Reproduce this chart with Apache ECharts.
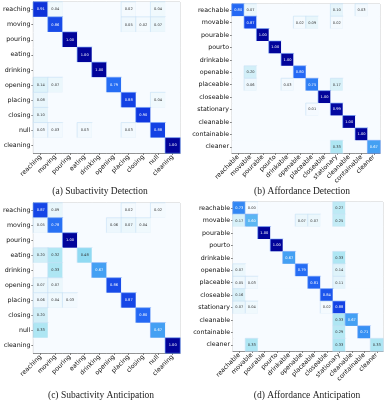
<!DOCTYPE html>
<html><head><meta charset="utf-8">
<script src="https://cdn.jsdelivr.net/npm/echarts@6/dist/echarts.min.js"></script>
<style>html,body{margin:0;padding:0;background:#fff}#c{width:385px;height:400px}</style>
</head><body><div id="c"></div>
<script>
const subCats = ['reaching','moving','pouring','eating','drinking','opening','placing','closing','null','cleaning'];
const affCats = ['reachable','movable','pourable','pourto','drinkable','openable','placeable','closeable','stationary','cleanable','containable','cleaner'];
const captions = ['(a) Subactivity Detection','(b) Affordance Detection','(c) Subactivity Anticipation','(d) Affordance Anticipation'];

const subDetection = [
  [0.91,0.04,0,0,0,0,0.02,0,0.04,0],
  [0,0.86,0,0,0,0,0.05,0.02,0.07,0],
  [0,0,1,0,0,0,0,0,0,0],
  [0,0,0,1,0,0,0,0,0,0],
  [0,0,0,0,1,0,0,0,0,0],
  [0.14,0.07,0,0,0,0.79,0,0,0,0],
  [0.08,0,0,0,0,0,0.88,0,0.04,0],
  [0.10,0,0,0,0,0,0,0.90,0,0],
  [0.03,0.03,0,0.03,0,0,0.03,0,0.88,0],
  [0,0,0,0,0,0,0,0,0,1]
];
const affDetection = [
  [0.80,0.07,0,0,0,0,0,0,0.10,0,0.03,0],
  [0,0.87,0,0,0,0.02,0.09,0,0.02,0,0,0],
  [0,0,1,0,0,0,0,0,0,0,0,0],
  [0,0,0,1,0,0,0,0,0,0,0,0],
  [0,0,0,0,1,0,0,0,0,0,0,0],
  [0,0.20,0,0,0,0.80,0,0,0,0,0,0],
  [0,0.06,0,0,0.03,0,0.75,0,0.17,0,0,0],
  [0,0,0,0,0,0,0,1,0,0,0,0],
  [0,0,0,0,0,0,0.01,0,0.99,0,0,0],
  [0,0,0,0,0,0,0,0,0,1,0,0],
  [0,0,0,0,0,0,0,0,0,0,1,0],
  [0,0,0,0,0,0,0,0,0.33,0,0,0.67]
];
const subAnticipation = [
  [0.87,0.09,0,0,0,0,0.02,0,0.02,0],
  [0.05,0.78,0,0,0,0.06,0.07,0.04,0,0],
  [0,0,1,0,0,0,0,0,0,0],
  [0.20,0.32,0,0.48,0,0,0,0,0,0],
  [0,0.33,0,0,0.67,0,0,0,0,0],
  [0.07,0.07,0,0,0,0.86,0,0,0,0],
  [0.06,0.04,0.03,0,0,0,0.87,0,0,0],
  [0.20,0,0,0,0,0,0,0.80,0,0],
  [0.33,0,0,0,0,0,0,0,0.67,0],
  [0,0,0,0,0,0,0,0,0,1]
];
const affAnticipation = [
  [0.73,0.004,0,0,0,0,0,0,0.27,0,0,0],
  [0.17,0.60,0,0,0,0.07,0.07,0,0.25,0,0,0],
  [0,0,1,0,0,0,0,0,0,0,0,0],
  [0,0,0,1,0,0,0,0,0,0,0,0],
  [0,0,0,0,0.67,0,0,0,0.33,0,0,0],
  [0.07,0,0,0,0,0.79,0,0,0.14,0,0,0],
  [0.05,0.03,0,0,0,0,0.81,0,0.11,0,0,0],
  [0.16,0,0,0,0,0,0,0.84,0,0,0,0],
  [0.07,0.04,0,0,0,0,0,0.02,0.88,0,0,0],
  [0,0,0,0,0,0,0,0,0.33,0.67,0,0],
  [0,0,0,0,0,0,0,0,0.29,0,0.71,0],
  [0,0.33,0,0,0,0,0,0,0.33,0,0,0.33]
];

const panels = [
  {m: subDetection, cats: subCats},
  {m: affDetection, cats: affCats},
  {m: subAnticipation, cats: subCats},
  {m: affAnticipation, cats: affCats}
];
const grids = [
  {left:29, top:2, width:151, height:151},
  {left:232, top:4, width:148, height:149},
  {left:29, top:203, width:151, height:150},
  {left:233, top:202, width:150, height:149}
];
const capPos = [[100,191],[302,191],[101,395],[307,395]];

function toData(m){
  const out = [];
  m.forEach((row, r) => row.forEach((v, c) => {
    const item = {value:[c, r, v], label:{color: v >= 0.55 ? '#ffffff' : '#333333'}};
    if (v > 0) item.itemStyle = {borderColor: v >= 0.5 ? 'rgba(110,160,250,0.75)' : 'rgba(200,225,245,0.8)', borderWidth: 0.8};
    out.push(item);
  }));
  return out;
}

const chart = echarts.init(document.getElementById('c'), null, {renderer:'canvas'});
const option = {
  backgroundColor:'#ffffff',
  animation:false,
  grid: grids.map(g => Object.assign({show:true, borderColor:'#b0b0b0', borderWidth:0.8, backgroundColor:'#f7fbff'}, g)),
  xAxis: panels.map((p,i) => ({
    type:'category', gridIndex:i, data:p.cats,
    axisLine:{show:true, lineStyle:{color:'#555', width:0.8}},
    axisTick:{show:true, alignWithLabel:true, length:2, lineStyle:{color:'#333', width:0.6}},
    axisLabel:{rotate:45, interval:0, fontSize:6.3, color:'#111', margin:3, fontFamily:'DejaVu Sans'},
    splitLine:{show:false}
  })),
  yAxis: panels.map((p,i) => ({
    type:'category', gridIndex:i, data:p.cats, inverse:true,
    axisLine:{show:true, lineStyle:{color:'#555', width:0.8}},
    axisTick:{show:true, alignWithLabel:true, length:2, lineStyle:{color:'#333', width:0.6}},
    axisLabel:{interval:0, fontSize:6.3, color:'#111', margin:3, fontFamily:'DejaVu Sans'},
    splitLine:{show:false}
  })),
  visualMap: {
    show:false, min:0, max:1, dimension:2, seriesIndex:[0,1,2,3],
    inRange:{color:['#f7fbff','#e6f5fb','#d2eff8','#b4e8f4','#a0e2f2','#8cd8f2','#5cb6f2','#3a96f4','#2468f4','#1038e0','#02049a']}
  },
  series: panels.map((p,i) => ({
    type:'heatmap', xAxisIndex:i, yAxisIndex:i, data:toData(p.m),
    label:{show:true, fontSize:3.6, fontFamily:'DejaVu Sans',
      formatter: d => d.value[2] > 0 ? d.value[2].toFixed(2) : ''},
    emphasis:{disabled:true}
  })),
  graphic: captions.map((t,i) => ({
    type:'text', x:capPos[i][0], y:capPos[i][1],
    style:{text:t, textAlign:'center', textVerticalAlign:'middle', font:'9.5px "Liberation Serif"', fill:'#222'}
  }))
};
chart.setOption(option);
</script></body></html>
